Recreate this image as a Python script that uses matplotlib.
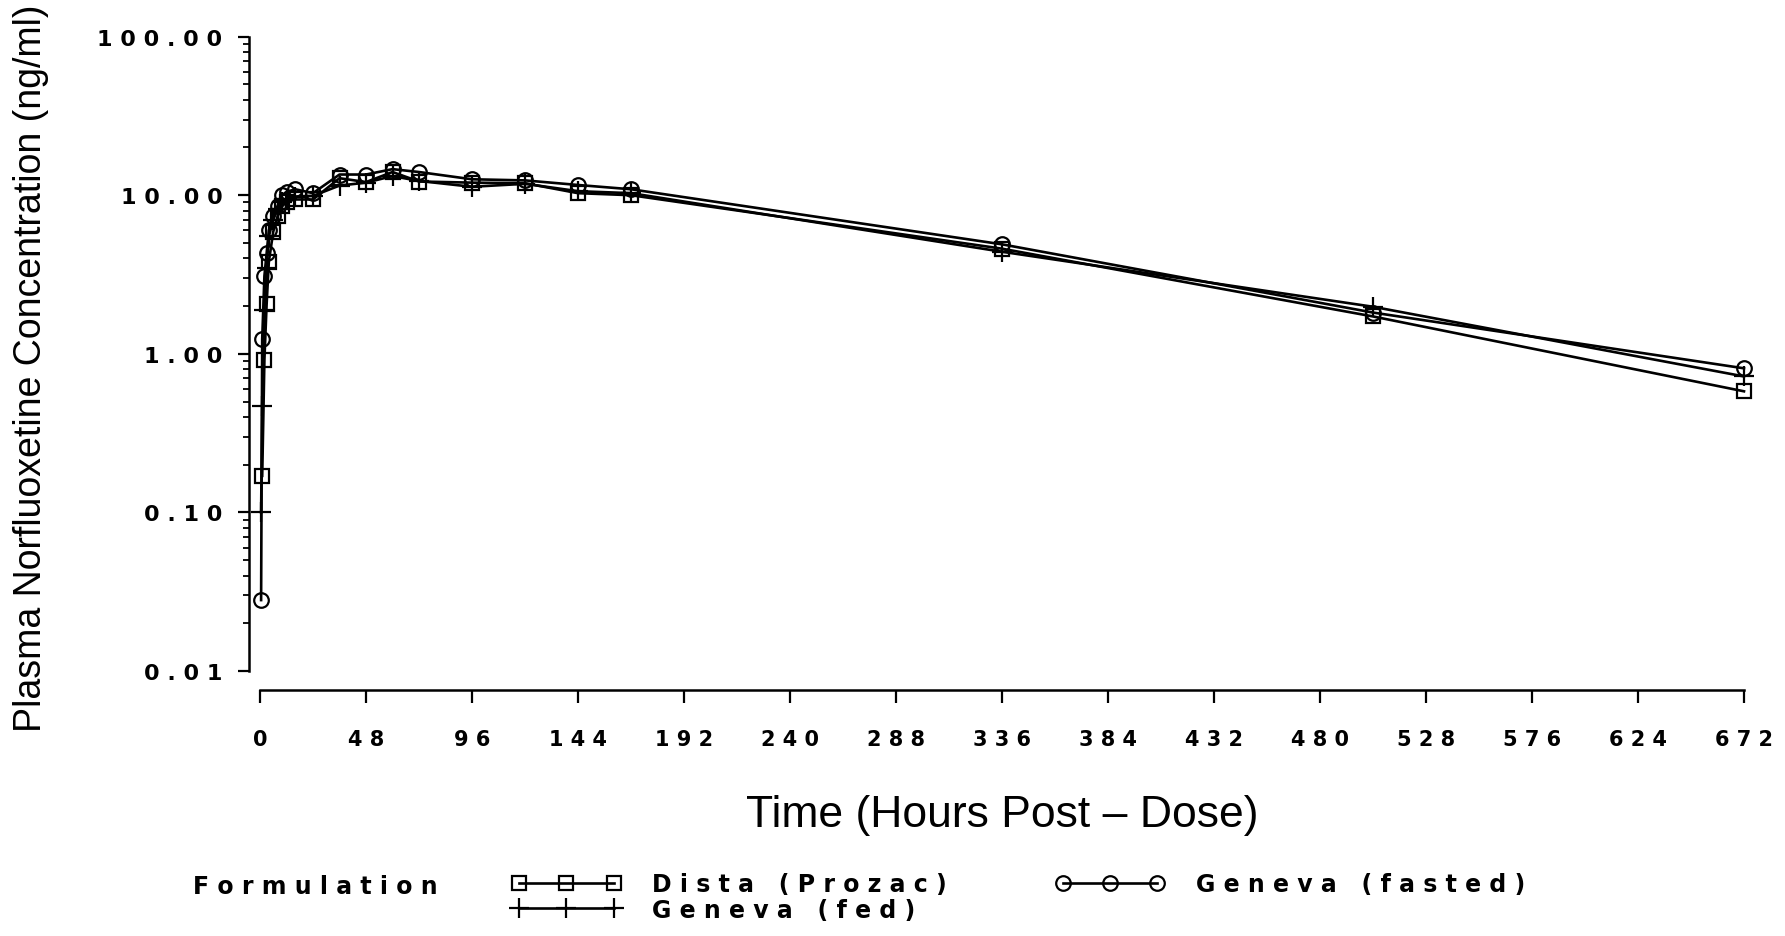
import numpy as np
import matplotlib.pyplot as plt
from matplotlib.ticker import LogLocator, NullFormatter

# dados (horas, ng/ml)
hours_dista = [1, 2, 3, 4, 6, 8, 10, 12, 16, 24, 36, 48, 60, 72, 96, 120, 144, 168, 336, 504, 672]
conc_dista = [0.17, 0.92, 2.05, 3.8, 5.9, 7.4, 8.5, 9.1, 9.4, 9.4, 12.8, 12.1, 14.0, 12.2,
              12.0, 11.9, 10.3, 10.0, 4.6, 1.72, 0.58]

hours_fasted = [0.5, 1, 2, 3, 4, 6, 8, 10, 12, 16, 24, 36, 48, 60, 72, 96, 120, 144, 168, 336, 504, 672]
conc_fasted = [0.028, 1.24, 3.1, 4.3, 6.0, 7.4, 8.6, 10.0, 10.5, 10.9, 10.3, 13.5, 13.5, 14.6, 14.0,
               12.6, 12.4, 11.6, 10.9, 4.9, 1.82, 0.81]

hours_fed = [0.5, 1, 2, 3, 4, 6, 8, 10, 12, 16, 24, 36, 48, 60, 72, 96, 120, 144, 168, 336, 504, 672]
conc_fed = [0.10, 0.47, 1.9, 3.5, 5.5, 7.0, 8.2, 9.0, 9.5, 9.8, 9.9, 11.5, 12.0, 13.2, 12.3,
            11.3, 11.8, 10.6, 10.3, 4.4, 1.98, 0.72]

x_ticks = list(range(0, 673, 48))
y_ticks = [0.01, 0.1, 1, 10, 100]
y_ticklabels = ['0.01', '0.10', '1.00', '10.00', '100.00']


def spaced(s):
    return ' '.join(s)


tickfont = 'DejaVu Sans'
labelfont = 'Liberation Sans'

W, H = 1785, 937
fig = plt.figure(figsize=(W / 100, H / 100), dpi=100)

# geometria em pixels
x_axis_px = 249
t0_px = 260
px_hr = (1744 - 260) / 672
xmax = 680
right_px = t0_px + xmax * px_hr
top_px, bot_px = 37.6, 672
ax = fig.add_axes([x_axis_px / W, 1 - bot_px / H, (right_px - x_axis_px) / W, (bot_px - top_px) / H])

style = dict(color='black', lw=1.9, mfc='none', mec='black', ms=10.5, mew=1.6)
l_dista, = ax.plot(hours_dista, conc_dista, marker='s', **style)
l_fasted, = ax.plot(hours_fasted, conc_fasted, marker='o', **style)
l_fed, = ax.plot(hours_fed, conc_fed, marker='+', **dict(style, ms=15))

ax.set_yscale('log')
ax.set_ylim(0.01, 100)
ax.set_xlim((x_axis_px - t0_px) / px_hr, xmax)

for s in ['top', 'right']:
    ax.spines[s].set_visible(False)
ax.spines['left'].set_bounds(0.01, 100)
ax.spines['left'].set_linewidth(1.8)
ax.spines['bottom'].set_position(('outward', 14))
ax.spines['bottom'].set_bounds(0, 672)
ax.spines['bottom'].set_linewidth(1.8)

ax.set_xticks(x_ticks)
ax.set_xticklabels([spaced(str(v)) for v in x_ticks], family=tickfont, fontsize=15, fontweight='bold')
ax.set_yticks(y_ticks)
ax.set_yticklabels([spaced(v) for v in y_ticklabels], family=tickfont, fontsize=16, fontweight='bold')
ax.yaxis.set_minor_locator(LogLocator(base=10, subs=np.arange(2, 10)))
ax.yaxis.set_minor_formatter(NullFormatter())
ax.tick_params(axis='x', direction='out', length=9, width=1.6, pad=19)
ax.tick_params(axis='y', which='major', direction='out', length=8, width=1.6, pad=11)
ax.tick_params(axis='y', which='minor', direction='out', length=4, width=1.3)

fig.text(31 / W, 1 - 368 / H, 'Plasma Norfluoxetine Concentration (ng/ml)', rotation=90,
         ha='center', va='center', family=labelfont, fontsize=27)
fig.text(1002 / W, 1 - 816 / H, 'Time (Hours Post \u2013 Dose)', ha='center', va='center',
         family=labelfont, fontsize=32)

# legenda
fig.text(193 / W, 1 - 887 / H, spaced('Formulation'), ha='left', va='center',
         family=tickfont, fontsize=17, fontweight='bold')
ax.legend([l_dista, l_fed, l_fasted],
          [spaced('Dista (Prozac)'), spaced('Geneva (fed)'), spaced('Geneva (fasted)')],
          ncol=2, numpoints=3, frameon=False, loc='center left',
          bbox_to_anchor=(512 / W, 1 - 898 / H), bbox_transform=fig.transFigure,
          borderpad=0, borderaxespad=0, handlelength=4.6, handletextpad=1.35,
          columnspacing=4.6, labelspacing=0.05,
          prop={'family': tickfont, 'size': 17, 'weight': 'bold'})

plt.savefig('out.png', dpi=100)
